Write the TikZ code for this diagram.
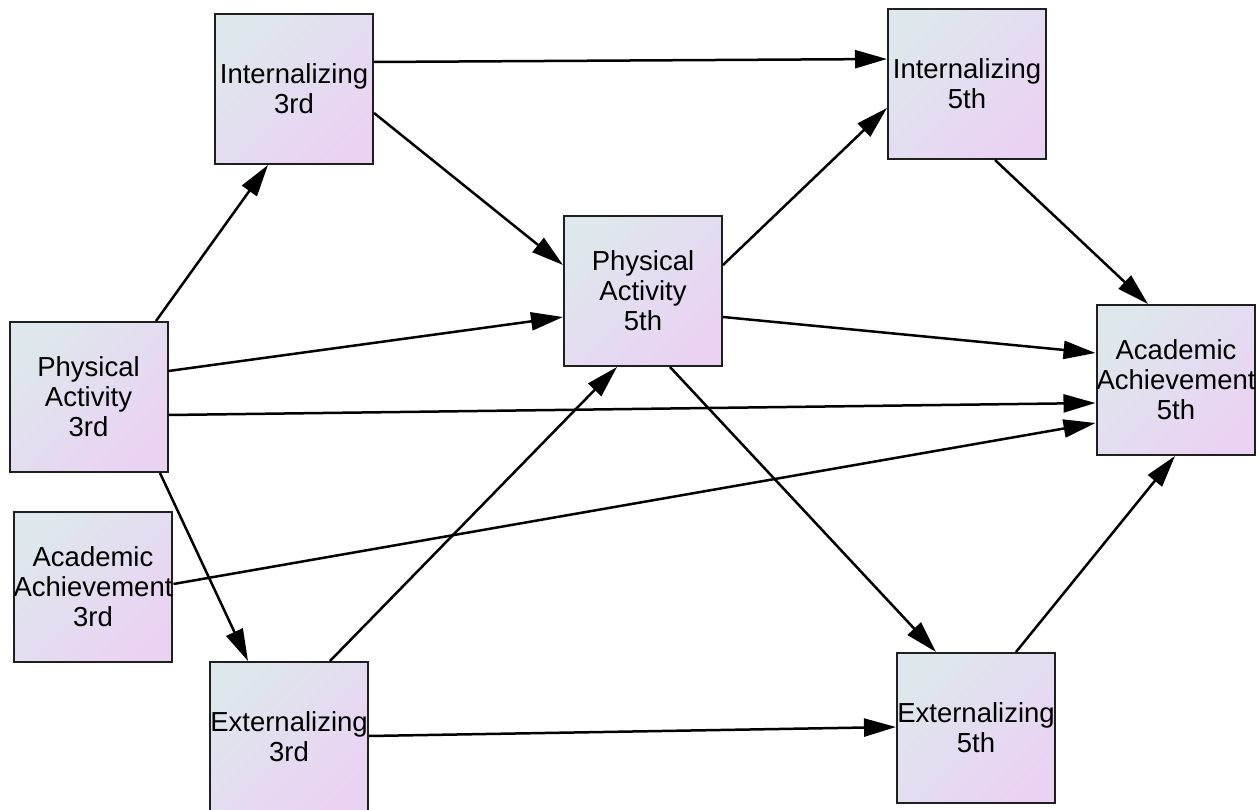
\documentclass[tikz,border=0pt]{standalone}
\usepackage{fontspec}
\setmainfont{Liberation Sans}
\usetikzlibrary{arrows.meta}
\definecolor{boxA}{RGB}{222,231,236}
\definecolor{boxB}{RGB}{234,210,243}
\begin{document}
\begin{tikzpicture}[x=1pt,y=-1pt,
  box/.style={draw=black!88, line width=2pt, minimum width=158pt, minimum height=150pt,
    inner sep=0pt, top color=boxA, bottom color=boxB, shading angle=45,
    align=center, font=\fontsize{27.5}{30}\selectfont},
  conn/.style={line width=2.5pt, -{Triangle[length=32pt,width=18pt]}}]
\useasboundingbox (0,0) rectangle (1259,810);
% nodes
\node[box] (pa3) at (88.5,397) {Physical\\Activity\\3rd};
\node[box] (aa3) at (93,587) {Academic\\Achievement\\3rd};
\node[box] (ext3) at (289,737) {Externalizing\\3rd};
\node[box] (int3) at (294,89) {Internalizing\\3rd};
\node[box] (pa5) at (643,291) {Physical\\Activity\\5th};
\node[box] (int5) at (967,84) {Internalizing\\5th};
\node[box] (aa5) at (1176,380) {Academic\\Achievement\\5th};
\node[box] (ext5) at (976,728) {Externalizing\\5th};
% connectors
\draw[conn] ([xshift=67.5pt]pa3.north) -- ([xshift=-26pt]int3.south);
\draw[conn] ([yshift=26pt]pa3.east) -- ([yshift=-26pt]pa5.west);
\draw[conn] ([yshift=-18pt]pa3.east) -- ([yshift=-23pt]aa5.west);
\draw[conn] ([xshift=71.5pt]pa3.south) -- ([xshift=-41pt]ext3.north);
\draw[conn] ([yshift=3pt]aa3.east) -- ([yshift=-43pt]aa5.west);
\draw[conn] ([yshift=27pt]int3.east) -- ([yshift=25pt]int5.west);
\draw[conn] ([yshift=-24pt]int3.east) -- ([yshift=26pt]pa5.west);
\draw[conn] ([xshift=41pt]ext3.north) -- ([xshift=-26pt]pa5.south);
\draw[conn] ([yshift=1pt]ext3.east) -- ([yshift=1pt]ext5.west);
\draw[conn] ([yshift=26pt]pa5.east) -- ([yshift=-24pt]int5.west);
\draw[conn] ([yshift=-26pt]pa5.east) -- ([yshift=27pt]aa5.west);
\draw[conn] ([xshift=27pt]pa5.south) -- ([xshift=-40pt]ext5.north);
\draw[conn] ([xshift=28pt]int5.south) -- ([xshift=-28pt]aa5.north);
\draw[conn] ([xshift=40pt]ext5.north) -- ([xshift=-1pt]aa5.south);
\end{tikzpicture}
\end{document}
